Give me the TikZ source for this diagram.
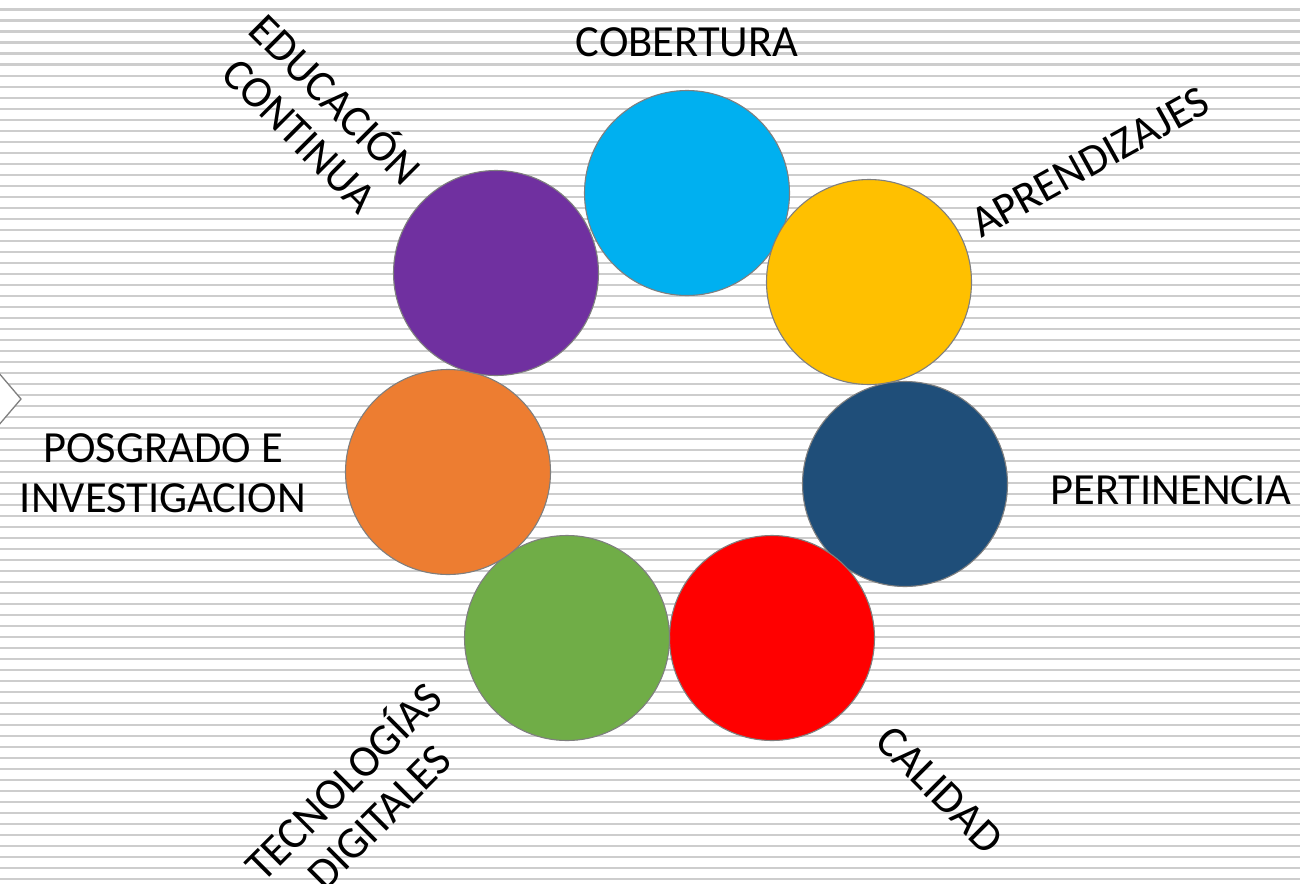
\documentclass[tikz,border=0pt]{standalone}
\usepackage{fontspec}
\setmainfont{Carlito}
\definecolor{cCob}{HTML}{00B0F0}
\definecolor{cApr}{HTML}{FFC000}
\definecolor{cPer}{HTML}{1F4E79}
\definecolor{cCal}{HTML}{FF0000}
\definecolor{cTec}{HTML}{70AD47}
\definecolor{cPos}{HTML}{ED7D31}
\definecolor{cEdu}{HTML}{7030A0}
\definecolor{stripecol}{HTML}{CDCDCD}
\definecolor{edgecol}{HTML}{7F7F7F}
\tikzset{
  stripe/.style={draw=stripecol, line width=2.4pt},
  ball/.style={circle, draw=edgecol, line width=1.1pt, minimum size=205pt, inner sep=0pt},
  lab/.style={font=\fontsize{44.5}{50}\selectfont, text=black, align=center, inner sep=0pt}
}
\begin{document}
\begin{tikzpicture}[x=1pt,y=-1pt]
\useasboundingbox (0,0) rectangle (1300,883);
\clip (0,0) rectangle (1300,883);
\fill[white] (0,0) rectangle (1300,883);
\foreach \i in {0,...,80} \draw[stripe] (0,{9.7+11*\i}) -- (1300,{9.7+11*\i});
\draw[draw=edgecol, fill=white, line width=1.3pt] (-2,372) -- (21,399) -- (-2,426);
% circles
\node[ball, fill=cCob] (cob) at (687,193) {};
\node[ball, fill=cApr] (apr) at (869,282) {};
\node[ball, fill=cPer] (per) at (905,484) {};
\node[ball, fill=cCal] (cal) at (772,638) {};
\node[ball, fill=cTec] (tec) at (567,638) {};
\node[ball, fill=cPos] (pos) at (448,472) {};
\node[ball, fill=cEdu] (edu) at (496,273) {};
% labels
\node[lab] (lcob) at (687,42) {COBERTURA};
\node[lab, rotate=29] (lapr) at (1090,162) {APRENDIZAJES};
\node[lab] (lper) at (1171,490) {PERTINENCIA};
\node[lab, rotate=-45] (lcal) at (940,790) {CALIDAD};
\node[lab, rotate=45] (ltec) at (359,797) {TECNOLOGÍAS\\DIGITALES};
\node[lab] (lpos) at (163,473) {POSGRADO E\\INVESTIGACION};
\node[lab, rotate=-45] (ledu) at (320,115) {EDUCACIÓN\\CONTINUA};
\end{tikzpicture}
\end{document}
